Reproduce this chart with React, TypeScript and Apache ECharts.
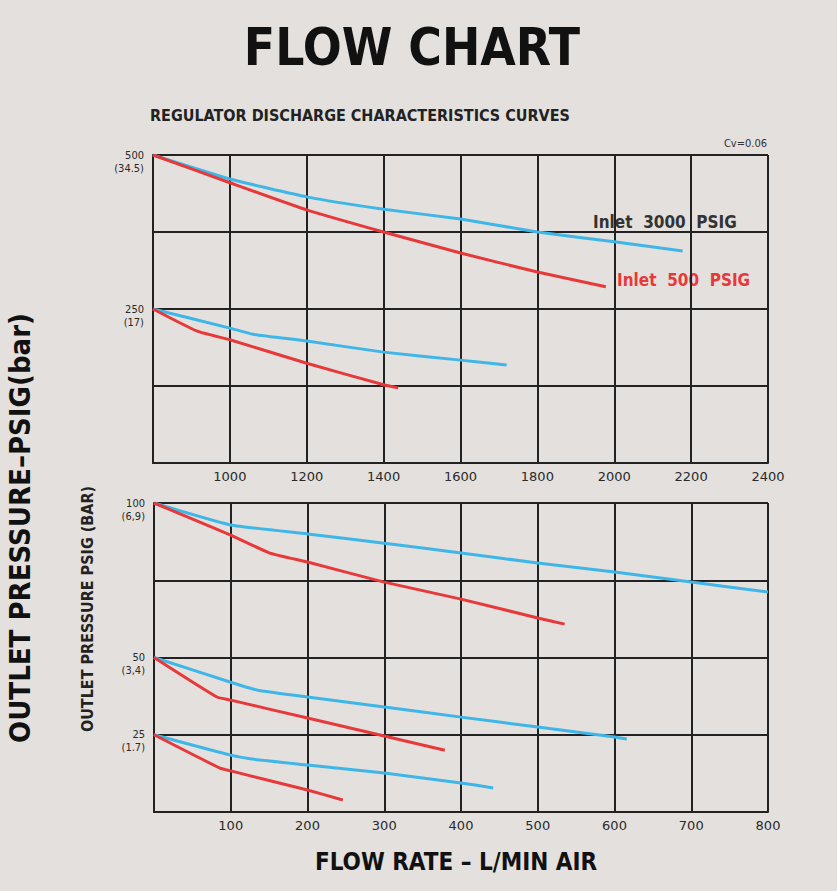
import React, { useEffect, useRef } from "react";
import * as echarts from "echarts";

// Top chart (x: flow L/min, y: outlet psig)
const topXTicks = [800, 1000, 1200, 1400, 1600, 1800, 2000, 2200, 2400];
const topYLabels: Record<number, string> = { 500: "(34.5)", 250: "(17)" };
const topBlue500 = [[800, 500], [1000, 461], [1200, 432], [1400, 412], [1600, 396], [1800, 375], [2000, 359], [2178, 344]];
const topRed500 = [[800, 500], [1000, 455], [1200, 411], [1400, 375], [1600, 341], [1800, 310], [1978, 286]];
const topBlue250 = [[800, 250], [1000, 219], [1060, 209], [1200, 198], [1400, 180], [1600, 167], [1720, 159]];
const topRed250 = [[800, 250], [915, 214], [1000, 200], [1200, 162], [1400, 127], [1438, 122]];

// Bottom chart
const botYLabels: Record<number, string> = { 100: "(6,9)", 50: "(3,4)", 25: "(1.7)" };
const botBlue100 = [[0, 100], [100, 92.9], [200, 90], [300, 87], [400, 83.8], [500, 80.6], [600, 77.7], [700, 74.4], [800, 71.2]];
const botRed100 = [[0, 100], [100, 89.6], [151, 83.8], [200, 80.9], [300, 74.4], [400, 68.9], [500, 62.8], [535, 60.8]];
const botBlue50 = [[0, 50], [100, 42], [134, 39.5], [200, 37.2], [300, 34], [400, 30.7], [500, 27.5], [600, 24.3], [616, 23.6]];
const botRed50 = [[0, 50], [82, 37.2], [100, 36.2], [200, 30.4], [300, 24.6], [379, 20]];
const botBlue25 = [[0, 25], [100, 18.4], [138, 16.8], [200, 15.2], [300, 12.6], [400, 9.4], [442, 7.8]];
const botRed25 = [[0, 25], [86, 14.2], [100, 13.3], [200, 7.1], [246, 3.9]];

const BLUE = "#3fb6e8";
const RED = "#e8393a";
const GRID = "#222222";
const COND = "'DejaVu Sans Condensed', 'DejaVu Sans', sans-serif";

export default function App() {
  const ref = useRef<HTMLDivElement>(null);
  useEffect(() => {
    document.body.style.margin = "0";
    const chart = echarts.init(ref.current!, undefined, { renderer: "svg" });
    const axisLine = { show: true, lineStyle: { color: GRID, width: 2 } };
    const splitLine = { show: true, lineStyle: { color: GRID, width: 2 } };
    const xLabel = { color: "#2a2a2a", fontSize: 13, fontFamily: "'DejaVu Sans', sans-serif", margin: 7 };
    const yLabel = { color: "#2a2a2a", fontSize: 11, fontFamily: COND, lineHeight: 13, margin: 9, align: "right" as const };
    const line = (data: number[][], color: string, idx: number) => ({
      type: "line",
      xAxisIndex: idx,
      yAxisIndex: idx,
      data,
      showSymbol: false,
      symbol: "none",
      smooth: 0.15,
      lineStyle: { color, width: 3 },
      z: 5,
    });
    chart.setOption({
      animation: false,
      backgroundColor: "#e3e0dd",
      grid: [
        { left: 153, top: 155, width: 615, height: 308 },
        { left: 154, top: 503, width: 614, height: 309 },
      ],
      xAxis: [
        {
          type: "value", gridIndex: 0, min: topXTicks[0], max: topXTicks[topXTicks.length - 1], interval: 200,
          axisLine, splitLine, axisTick: { show: false },
          axisLabel: { ...xLabel, formatter: (v: number) => (v === 800 ? "" : String(v)) },
        },
        {
          type: "value", gridIndex: 1, min: 0, max: 800, interval: 100,
          axisLine, splitLine, axisTick: { show: false },
          axisLabel: { ...xLabel, formatter: (v: number) => (v === 0 ? "" : String(v)) },
        },
      ],
      yAxis: [
        {
          type: "value", gridIndex: 0, min: 0, max: 500, interval: 125,
          axisLine, splitLine, axisTick: { show: false },
          axisLabel: { ...yLabel, formatter: (v: number) => (topYLabels[v] ? "\n" + v + "\n" + topYLabels[v] : "") },
        },
        {
          type: "value", gridIndex: 1, min: 0, max: 100, interval: 25,
          axisLine, splitLine, axisTick: { show: false },
          axisLabel: { ...yLabel, formatter: (v: number) => (botYLabels[v] ? "\n" + v + "\n" + botYLabels[v] : "") },
        },
      ],
      series: [
        line(topBlue500, BLUE, 0),
        line(topRed500, RED, 0),
        line(topBlue250, BLUE, 0),
        line(topRed250, RED, 0),
        line(botBlue100, BLUE, 1),
        line(botRed100, RED, 1),
        line(botBlue50, BLUE, 1),
        line(botRed50, RED, 1),
        line(botBlue25, BLUE, 1),
        line(botRed25, RED, 1),
      ],
      graphic: [
        {
          type: "text", x: 412, y: 47,
          style: { text: "FLOW CHART", fill: "#111", font: `900 51px ${COND}`, align: "center", verticalAlign: "middle" },
        },
        {
          type: "text", x: 150, y: 115,
          style: { text: "REGULATOR DISCHARGE CHARACTERISTICS CURVES", fill: "#222", font: `bold 16px ${COND}`, align: "left", verticalAlign: "middle" },
        },
        {
          type: "text", x: 767, y: 143,
          style: { text: "Cv=0.06", fill: "#333", font: `11px ${COND}`, align: "right", verticalAlign: "middle" },
        },
        {
          type: "text", x: 593, y: 222,
          style: { text: "Inlet  3000  PSIG", fill: "#333", font: `bold 17px ${COND}`, align: "left", verticalAlign: "middle" },
        },
        {
          type: "text", x: 617, y: 280,
          style: { text: "Inlet  500  PSIG", fill: RED, font: `bold 17px ${COND}`, align: "left", verticalAlign: "middle" },
        },
        {
          type: "text", x: 20, y: 528, rotation: Math.PI / 2,
          style: { text: "OUTLET PRESSURE–PSIG(bar)", fill: "#111", font: `bold 29px ${COND}`, align: "center", verticalAlign: "middle" },
        },
        {
          type: "text", x: 87, y: 609, rotation: Math.PI / 2,
          style: { text: "OUTLET PRESSURE PSIG (BAR)", fill: "#222", font: `bold 16px ${COND}`, align: "center", verticalAlign: "middle" },
        },
        {
          type: "text", x: 456, y: 862,
          style: { text: "FLOW RATE – L/MIN AIR", fill: "#111", font: `bold 24px ${COND}`, align: "center", verticalAlign: "middle" },
        },
      ],
    });
    return () => chart.dispose();
  }, []);
  return <div ref={ref} style={{ position: "fixed", left: 0, top: 0, width: 837, height: 891 }} />;
}
